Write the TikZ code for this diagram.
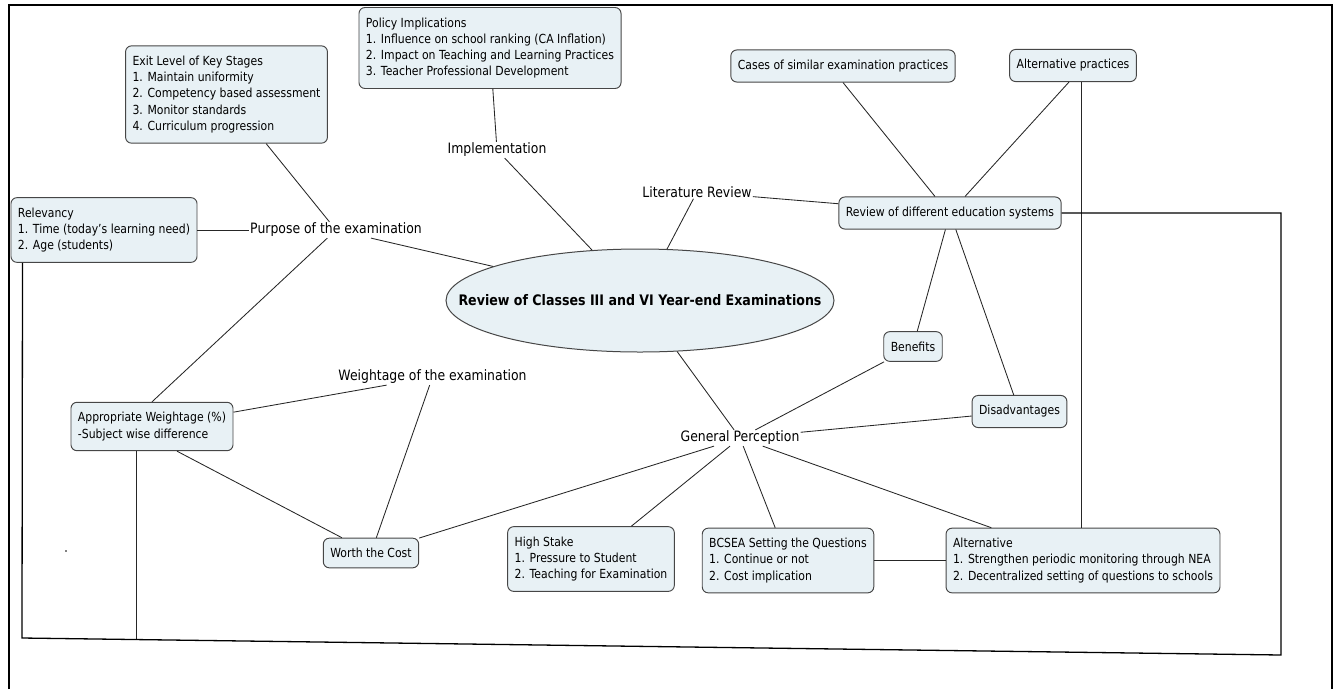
\documentclass[tikz,border=0pt]{standalone}
\usepackage{fontspec}
\setmainfont{DejaVu Sans}[FakeStretch=0.87]
\usetikzlibrary{shapes.geometric}
\definecolor{boxfill}{RGB}{232,241,245}
\definecolor{boxline}{RGB}{70,70,70}
\begin{document}
\begin{tikzpicture}[x=1pt,y=-1pt,
  box/.style={draw=boxline, line width=0.95pt, fill=boxfill, rounded corners=6pt, align=left, inner xsep=7pt, inner ysep=10pt, font=\fontsize{12.5}{16.3}\selectfont},
  tag/.style={inner sep=1pt, font=\fontsize{14.3}{17}\selectfont},
  hub/.style={draw=boxline, line width=1pt, fill=boxfill, ellipse, minimum width=388pt, minimum height=103pt},
  link/.style={black!85, line width=0.85pt},
  rim/.style={black, line width=1.3pt}]
\useasboundingbox (0,0) rectangle (1340,689);

\draw[rim, line width=1.6pt] (9,689) -- (9,5) -- (1332,5) -- (1332,689);

\node[hub] (hub) at (640,300.5) {};
\node[font=\fontsize{14.5}{17}\selectfont\bfseries] (hubtext) at (hub.center) {Review of Classes III and VI Year-end Examinations};

\node[box] (exitlvl) at (226.5,94.5) {Exit Level of Key Stages\\1. Maintain uniformity\\2. Competency based assessment\\3. Monitor standards\\4. Curriculum progression};
\node[box] (policy) at (490,48) {Policy Implications\\1. Influence on school ranking (CA Inflation)\\2. Impact on Teaching and Learning Practices\\3. Teacher Professional Development};
\node[box] (relev) at (104,230) {Relevancy\\1. Time (today's learning need)\\2. Age (students)};
\node[tag] (purpose) at (336,230) {Purpose of the examination};
\node[tag] (impl) at (497,150) {Implementation};
\node[tag] (litrev) at (697,192) {Literature Review};
\node[box] (cases) at (843,66) {Cases of similar examination practices};
\node[box] (altp) at (1073,65.5) {Alternative practices};
\node[box] (review) at (950,213) {Review of different education systems};
\node[box] (benefits) at (913,346.5) {Benefits};
\node[box] (disadv) at (1019.5,411.5) {Disadvantages};
\node[tag] (weight) at (432.5,377) {Weightage of the examination};
\node[tag] (percep) at (740,438) {General Perception};
\node[box] (aw) at (152,426.5) {Appropriate Weightage (\%)\\-Subject wise difference};
\node[box] (worth) at (371,553) {Worth the Cost};
\node[box] (stake) at (591,559) {High Stake\\1. Pressure to Student\\2. Teaching for Examination};
\node[box] (bcsea) at (788,560.5) {BCSEA Setting the Questions\\1. Continue or not\\2. Cost implication};
\node[box] (alt) at (1083,560.5) {Alternative\\1. Strengthen periodic monitoring through NEA\\2. Decentralized setting of questions to schools};

\coordinate (cornerbl) at (22,638);
\coordinate (cornerbr) at (1281,655);
\coordinate (awfoot) at (136,639);

\draw[link] (exitlvl) -- (purpose);
\draw[link] (relev) -- (purpose);
\draw[link] (purpose) -- (hub);
\draw[link] (purpose) -- (aw.north);
\draw[link] (policy) -- (impl);
\draw[link] (impl) -- (hub);
\draw[link] (litrev) -- (hub);
\draw[link] (litrev) -- (review);
\draw[link] (cases.south) -- ([xshift=-15pt]review.north);
\draw[link] ([xshift=-4pt]altp.south) -- ([xshift=15pt]review.north);
\draw[link] (review) -- (benefits);
\draw[link] (review) -- (disadv);
\draw[link] ([xshift=8pt]altp.south) -- ([xshift=8pt]altp.south |- alt.north);
\draw[link] (hub) -- (percep);
\draw[link] (percep) -- (benefits);
\draw[link] (percep) -- (disadv);
\draw[link] (percep) -- (worth);
\draw[link] (percep) -- (stake);
\draw[link] (percep) -- (bcsea);
\draw[link] (percep) -- (alt);
\draw[link] (bcsea) -- (alt);
\draw[link] (weight) -- (aw);
\draw[link] (weight) -- (worth);
\draw[link] ([xshift=25pt]aw.south) -- (worth);
\draw[link] ([xshift=-16pt]aw.south) -- (awfoot);

\draw[rim] ([xshift=12pt]relev.south west) -- (cornerbl) -- (cornerbr) |- (review.east);

\fill (66,551) circle (0.8);
\end{tikzpicture}
\end{document}
